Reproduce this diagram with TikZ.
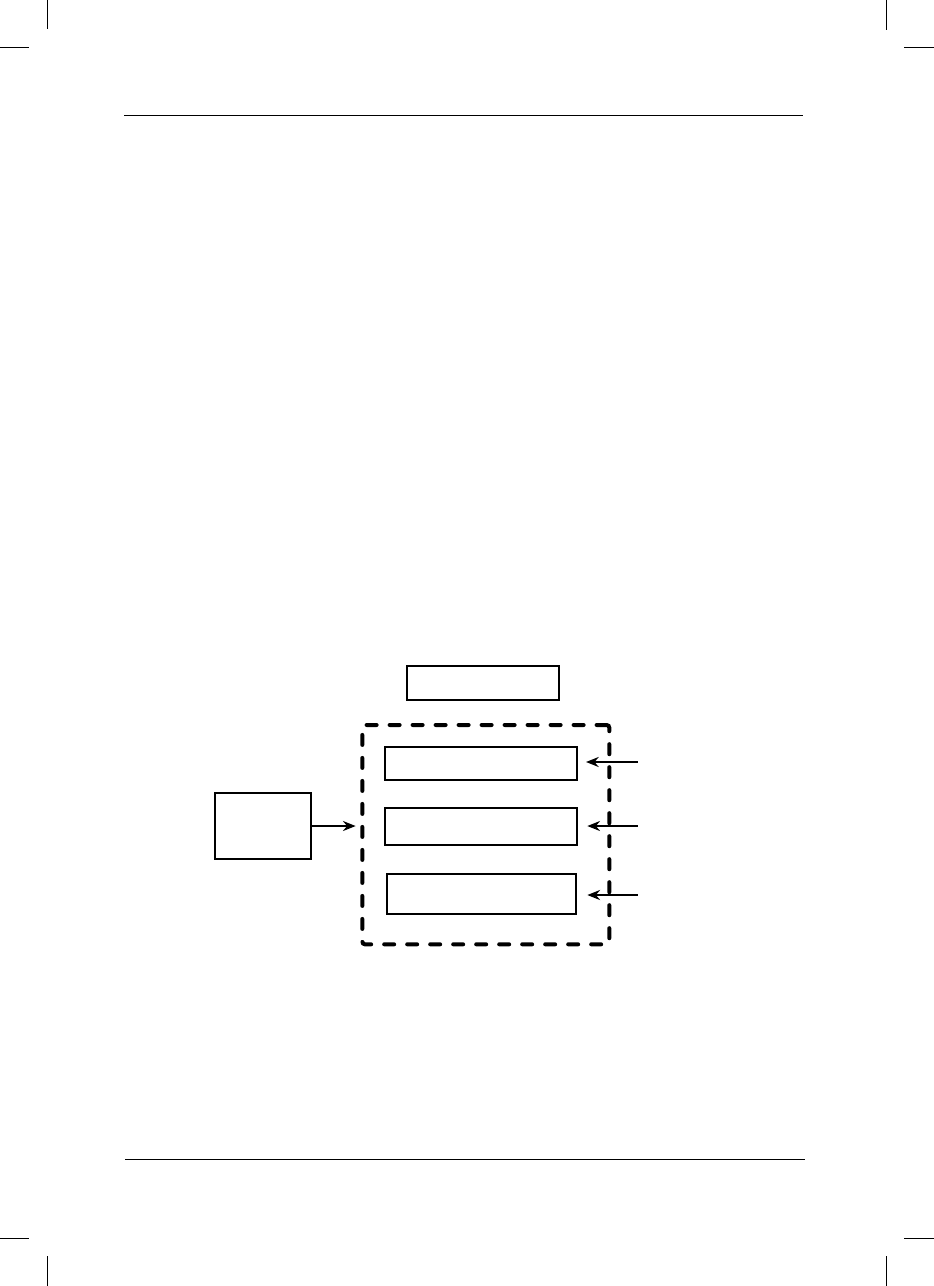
\documentclass[tikz,border=0pt]{standalone}
\usetikzlibrary{fit,arrows.meta}
\begin{document}
\begin{tikzpicture}[x=0.75pt,y=-0.75pt,
  box/.style={draw=black,line width=1.5pt,inner sep=0pt,fill=none},
  dashbox/.style={draw=black,line width=3pt,inner sep=0pt,rounded corners=2pt,line cap=round,dash pattern=on 7.5pt off 9.75pt},
  arr/.style={draw=black,line width=1.6pt,-{Stealth[length=9.5pt,width=7.5pt]}},
  thin line/.style={draw=black,line width=0.75pt}]
\useasboundingbox (0,0) rectangle (934,1286);
% crop marks
\draw[thin line] (47.7,0) -- (47.7,29);
\draw[thin line] (0,47) -- (29,47);
\draw[thin line] (886,0) -- (886,30);
\draw[thin line] (904,47) -- (934,47);
\draw[thin line] (0,1238) -- (29,1238);
\draw[thin line] (47.7,1256) -- (47.7,1286);
\draw[thin line] (904,1238) -- (934,1238);
\draw[thin line] (886,1256) -- (886,1286);
% header and footer rules
\draw[thin line] (124,115) -- (803,115);
\draw[thin line] (125,1159) -- (805,1159);
% corner coordinates
\coordinate (t1) at (406.7,665.7); \coordinate (t2) at (559,700);
\coordinate (d1) at (362.3,725); \coordinate (d2) at (609.3,944.3);
\coordinate (b1a) at (385,747); \coordinate (b1b) at (577,779.7);
\coordinate (b2a) at (385,807.7); \coordinate (b2b) at (577,844.7);
\coordinate (b3a) at (386.7,873.7); \coordinate (b3b) at (575.7,914);
\coordinate (la) at (214.7,792.7); \coordinate (lb) at (311,859.3);
% nodes
\node[box,fit=(t1)(t2)] (top) {};
\node[dashbox,fit=(d1)(d2)] (group) {};
\node[box,fit=(b1a)(b1b)] (b1) {};
\node[box,fit=(b2a)(b2b)] (b2) {};
\node[box,fit=(b3a)(b3b)] (b3) {};
\node[box,fit=(la)(lb)] (left) {};
% free ends of right arrows
\coordinate (r1) at (637.7,762);
\coordinate (r2) at (637.7,826);
\coordinate (r3) at (637.7,895);
% connectors
\draw[arr,shorten >=3.5pt] (left.east) -- (left.east -| group.west);
\draw[arr,shorten >=6pt] (r1) -- (r1 -| b1.east);
\draw[arr,shorten >=7pt] (r2) -- (r2 -| b2.east);
\draw[arr,shorten >=8pt] (r3) -- (r3 -| b3.east);
\end{tikzpicture}
\end{document}
